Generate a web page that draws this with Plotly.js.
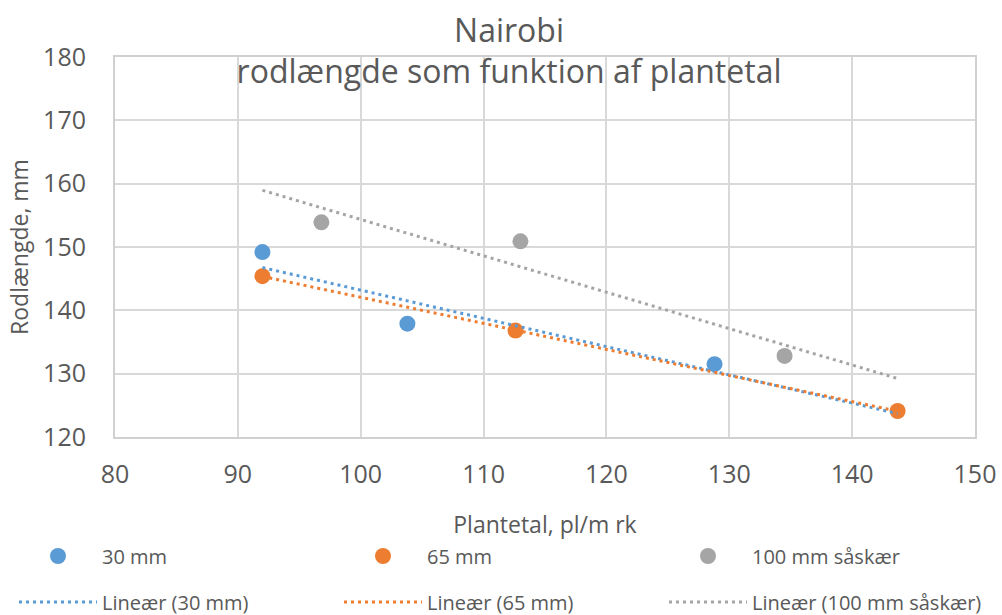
<!DOCTYPE html>
<html>
<head>
<meta charset="utf-8">
<script src="https://cdn.plot.ly/plotly-3.0.1.min.js"></script>
<style>html,body{margin:0;padding:0;background:#fff;}#chart{width:1002px;height:615px;}</style>
</head>
<body>
<div id="chart"></div>
<script>
// Data
const seriesNames = ["30 mm", "65 mm", "100 mm såskær"];
const x30 = [92.0, 103.8, 128.8];
const y30 = [149.2, 137.9, 131.5];
const x65 = [92.0, 112.6, 143.7];
const y65 = [145.4, 136.8, 124.1];
const x100 = [96.8, 113.0, 134.5];
const y100 = [153.9, 150.9, 132.8];
const xTicks = [80, 90, 100, 110, 120, 130, 140, 150];
const yTicks = [120, 130, 140, 150, 160, 170, 180];

const colors = ["#5B9BD5", "#ED7D31", "#A5A5A5"];
const txt = "#595959";
const font = "Open Sans, Noto Sans, sans-serif";

function linfit(xs, ys) {
  const n = xs.length;
  const mx = xs.reduce((a, b) => a + b, 0) / n;
  const my = ys.reduce((a, b) => a + b, 0) / n;
  let sxy = 0, sxx = 0;
  for (let i = 0; i < n; i++) { sxy += (xs[i] - mx) * (ys[i] - my); sxx += (xs[i] - mx) ** 2; }
  const b = sxy / sxx;
  return { a: my - b * mx, b: b };
}

const allX = x30.concat(x65, x100);
const xmin = Math.min(...allX), xmax = Math.max(...allX);
const xsData = [x30, x65, x100];
const ysData = [y30, y65, y100];

const traces = [];
for (let i = 0; i < 3; i++) {
  traces.push({
    x: xsData[i], y: ysData[i], type: "scatter", mode: "markers", name: seriesNames[i],
    legend: "legend",
    marker: { color: colors[i], size: 16 }
  });
}
for (let i = 0; i < 3; i++) {
  const f = linfit(xsData[i], ysData[i]);
  traces.push({
    x: [xmin, xmax], y: [f.a + f.b * xmin, f.a + f.b * xmax], type: "scatter", mode: "lines",
    name: "Lineær (" + seriesNames[i] + ")",
    legend: "legend2",
    line: { color: colors[i], width: 3, dash: "3px,4px" }
  });
}

// plot area: left 115, right 975, top 57, bottom 437 (px)
const legendCommon = {
  orientation: "h",
  xref: "paper", yref: "paper",
  x: (14 - 115) / 860, xanchor: "left",
  yanchor: "middle",
  entrywidth: 232, entrywidthmode: "pixels",
  itemwidth: 78,
  font: { size: 20, color: txt, family: font },
  bgcolor: "rgba(0,0,0,0)"
};

const layout = {
  width: 1002, height: 615,
  paper_bgcolor: "#ffffff", plot_bgcolor: "#ffffff",
  font: { family: font, color: txt },
  margin: { l: 115, r: 27, t: 57, b: 178, pad: 0, autoexpand: false },
  title: {
    text: "Nairobi<br>rodlængde som funktion af plantetal",
    font: { size: 32, color: txt, family: font },
    xref: "container", x: 0.508, xanchor: "center",
    yref: "container", y: 0.932, yanchor: "top"
  },
  xaxis: {
    range: [80, 150], tickvals: xTicks, ticktext: xTicks.map(String),
    showgrid: true, gridcolor: "#D9D9D9", gridwidth: 2,
    showline: true, linecolor: "#D0D0D0", linewidth: 2, mirror: true,
    zeroline: false,
    ticks: "outside", ticklen: 14, tickcolor: "rgba(0,0,0,0)",
    tickfont: { size: 25, color: txt, family: font },
    automargin: true,
    title: { text: "Plantetal, pl/m rk", font: { size: 23, color: txt, family: font }, standoff: 28 }
  },
  yaxis: {
    range: [120, 180], tickvals: yTicks, ticktext: yTicks.map(String),
    showgrid: true, gridcolor: "#D9D9D9", gridwidth: 2,
    showline: true, linecolor: "#D0D0D0", linewidth: 2, mirror: true,
    zeroline: false,
    ticks: "outside", ticklen: 22, tickcolor: "rgba(0,0,0,0)",
    tickfont: { size: 25, color: txt, family: font },
    title: { text: "Rodlængde, mm", font: { size: 23, color: txt, family: font }, standoff: 8 }
  },
  showlegend: true,
  legend: Object.assign({}, legendCommon, { y: (437 - 556) / 380 }),
  legend2: Object.assign({}, legendCommon, { y: (437 - 602) / 380 })
};

Plotly.newPlot("chart", traces, layout, { displayModeBar: false, staticPlot: true });
</script>
</body>
</html>
